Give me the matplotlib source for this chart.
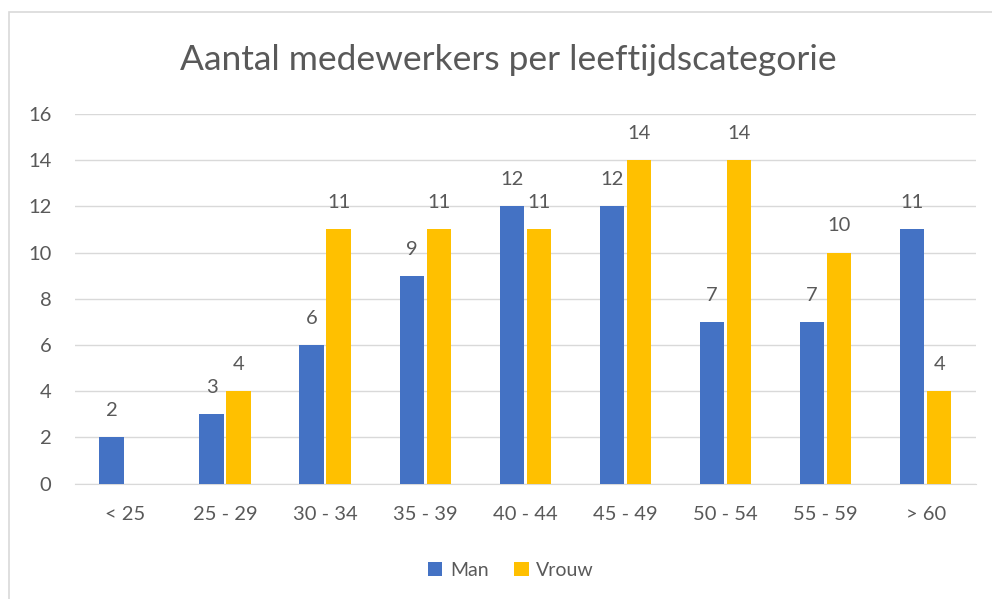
import numpy as np
import matplotlib.pyplot as plt
from matplotlib.patches import Rectangle

categories = ["< 25", "25 - 29", "30 - 34", "35 - 39", "40 - 44",
              "45 - 49", "50 - 54", "55 - 59", "> 60"]
man = [2, 3, 6, 9, 12, 12, 7, 7, 11]
vrouw = [0, 4, 11, 11, 11, 14, 14, 10, 4]
yticks = [0, 2, 4, 6, 8, 10, 12, 14, 16]

BLUE = "#4472C4"
GOLD = "#FFC000"
TXT = "#595959"
GRID = "#D9D9D9"

plt.rcParams["font.family"] = ["Lato", "DejaVu Sans"]

fig = plt.figure(figsize=(9.92, 5.99), dpi=100)
ax = fig.add_axes([0.0756, 0.1925, 0.908, 0.6175])

# light frame around the chart (only top/left are visible in the original)
fig.patches.append(Rectangle((9 / 992, -0.1), 1.2, 1.1 - 12 / 599,
                             transform=fig.transFigure, fill=False,
                             edgecolor=GRID, linewidth=1.2))

x = np.arange(len(categories))
w = 0.245
off = 0.135
b1 = ax.bar(x - off, man, w, color=BLUE, label="Man", zorder=3)
b2 = ax.bar(x + off, vrouw, w, color=GOLD, label="Vrouw", zorder=3)

for bars, vals in ((b1, man), (b2, vrouw)):
    for r, v in zip(bars, vals):
        if v == 0:
            continue
        ax.annotate(str(v), (r.get_x() + r.get_width() / 2, v),
                    xytext=(0, 13), textcoords="offset points",
                    ha="center", va="bottom", fontsize=14.5, color=TXT)

ax.set_xlim(-0.5, len(categories) - 0.5)
ax.set_ylim(0, 16)
ax.set_yticks(yticks)
ax.set_xticks(x)
ax.set_xticklabels(categories)
ax.yaxis.grid(True, color=GRID, linewidth=1, zorder=0)
ax.set_axisbelow(True)
for s in ["top", "right", "left"]:
    ax.spines[s].set_visible(False)
ax.spines["bottom"].set_color(GRID)
ax.tick_params(axis="both", length=0, labelsize=14.5, labelcolor=TXT)
ax.tick_params(axis="x", pad=16)
ax.tick_params(axis="y", pad=17)

fig.suptitle("Aantal medewerkers per leeftijdscategorie", y=0.927,
             fontsize=25.5, color=TXT, x=0.512)

fig.legend(handles=[b1, b2], labels=["Man", "Vrouw"], loc="center",
           bbox_to_anchor=(0.515, 0.048), ncol=2, frameon=False,
           fontsize=14, labelcolor=TXT, handlelength=0.75, handleheight=0.75,
           handletextpad=0.4, columnspacing=1.3)

fig.savefig("out.png", dpi=100)
